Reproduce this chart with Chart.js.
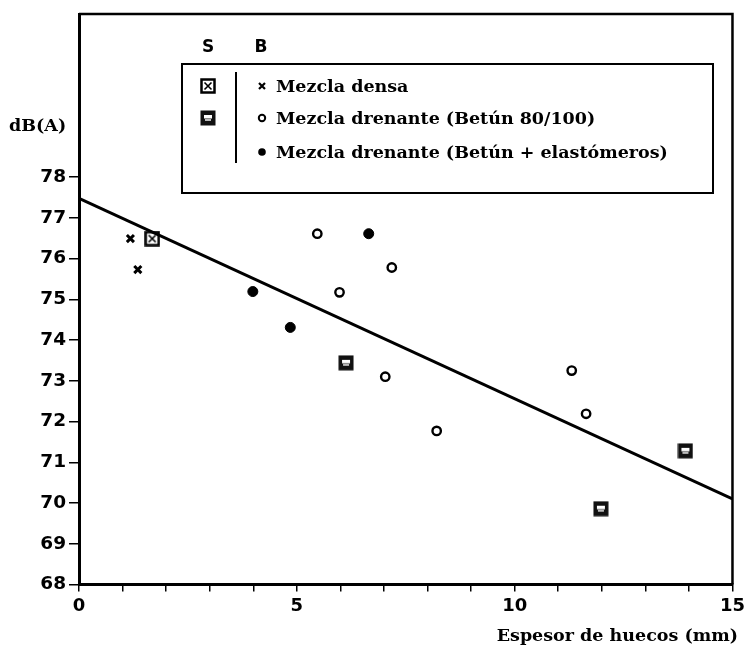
<!DOCTYPE html>
<html>
<head>
<meta charset="utf-8">
<script src="https://cdn.jsdelivr.net/npm/chart.js@4/dist/chart.umd.min.js"></script>
<style>
html,body{margin:0;padding:0;background:#fff;}
#wrap{position:relative;width:749px;height:648px;}
</style>
</head>
<body>
<div id="wrap"><canvas id="c" width="749" height="648"></canvas></div>
<script>
// ---- data ----
const densaB_x = [1.18, 1.35];
const densaB_y = [76.49, 75.73];
const drenB_x = [5.47, 5.98, 7.18, 7.03, 8.21, 11.31, 11.64];
const drenB_y = [76.61, 75.17, 75.78, 73.10, 71.77, 73.25, 72.19];
const elastB_x = [3.99, 4.85, 6.65];
const elastB_y = [75.19, 74.31, 76.61];
const densaS_x = [1.68];
const densaS_y = [76.49];
const drenS_x = [6.13, 11.98, 13.92];
const drenS_y = [73.44, 69.86, 71.28];
const fit_x = [0, 15];
const fit_y = [77.48, 70.10];
const yTicks = [68, 69, 70, 71, 72, 73, 74, 75, 76, 77, 78];
const xLabels = [0, 5, 10, 15];
const legendLabels = ['Mezcla densa', 'Mezcla drenante (Betún 80/100)', 'Mezcla drenante (Betún + elastómeros)'];
const yTitle = 'dB(A)';
const xTitle = 'Espesor de huecos (mm)';

const pts = (xs, ys) => xs.map((x, i) => ({x: x, y: ys[i]}));

// custom square markers
function sqDensa() {
  const c = document.createElement('canvas'); c.width = 16; c.height = 16;
  const g = c.getContext('2d');
  g.strokeStyle = '#000'; g.lineWidth = 2.5;
  g.strokeRect(1.5, 1.5, 13, 13);
  g.lineWidth = 1.6;
  g.beginPath(); g.moveTo(4.5, 4.5); g.lineTo(11.5, 11.5); g.moveTo(11.5, 4.5); g.lineTo(4.5, 11.5); g.stroke();
  return c;
}
function sqDren() {
  const c = document.createElement('canvas'); c.width = 16; c.height = 16;
  const g = c.getContext('2d');
  g.fillStyle = '#111'; g.fillRect(0.5, 0.5, 15, 15);
  g.fillStyle = '#fff'; g.fillRect(4, 5, 8, 3.5);
  g.fillStyle = '#bbb'; g.fillRect(5, 9, 6, 2);
  return c;
}
const SQ1 = sqDensa(), SQ2 = sqDren();

const SERIF = '"DejaVu Serif", serif';
const SANS = '"DejaVu Sans", sans-serif';

const decor = {
  id: 'decor',
  afterDraw(chart) {
    const ctx = chart.ctx, a = chart.chartArea;
    ctx.save();
    // top and right frame
    ctx.strokeStyle = '#000'; ctx.lineWidth = 2.5;
    ctx.beginPath();
    ctx.moveTo(a.left, a.top); ctx.lineTo(a.right, a.top); ctx.lineTo(a.right, a.bottom);
    ctx.stroke();
    // y title
    ctx.fillStyle = '#000';
    ctx.font = 'bold 17.5px ' + SERIF;
    ctx.textAlign = 'left'; ctx.textBaseline = 'middle';
    ctx.fillText(yTitle, 9, 126);
    // x title
    ctx.font = 'bold 17.5px ' + SERIF;
    ctx.textAlign = 'right';
    ctx.fillText(xTitle, 738, 636);
    // legend box
    ctx.lineWidth = 2;
    ctx.strokeRect(182, 64, 531, 129);
    ctx.font = 'bold 17px ' + SANS;
    ctx.textAlign = 'center';
    ctx.fillText('S', 208, 48);
    ctx.fillText('B', 261, 48);
    ctx.beginPath(); ctx.moveTo(236, 72); ctx.lineTo(236, 163); ctx.stroke();
    const rows = [86, 118, 152];
    ctx.drawImage(SQ1, 208 - 8, rows[0] - 8);
    ctx.drawImage(SQ2, 208 - 8, rows[1] - 8);
    // B markers
    ctx.lineWidth = 2.2;
    ctx.beginPath();
    ctx.moveTo(259, rows[0] - 3); ctx.lineTo(265, rows[0] + 3);
    ctx.moveTo(265, rows[0] - 3); ctx.lineTo(259, rows[0] + 3);
    ctx.stroke();
    ctx.lineWidth = 2;
    ctx.beginPath(); ctx.arc(262, rows[1], 3.2, 0, Math.PI * 2); ctx.stroke();
    ctx.beginPath(); ctx.arc(262, rows[2], 3.8, 0, Math.PI * 2); ctx.fill();
    ctx.font = 'bold 17.5px ' + SERIF;
    ctx.textAlign = 'left';
    legendLabels.forEach((t, i) => ctx.fillText(t, 276, rows[i] + 1));
    ctx.restore();
  }
};

new Chart(document.getElementById('c'), {
  type: 'scatter',
  data: {
    datasets: [
      {type: 'line', data: pts(fit_x, fit_y), borderColor: '#000', borderWidth: 3, pointRadius: 0, fill: false, order: 10},
      {data: pts(densaB_x, densaB_y), pointStyle: 'crossRot', radius: 5, borderColor: '#000', borderWidth: 3},
      {data: pts(drenB_x, drenB_y), pointStyle: 'circle', radius: 4.2, borderColor: '#000', backgroundColor: '#fff', borderWidth: 2.4},
      {data: pts(elastB_x, elastB_y), pointStyle: 'circle', radius: 5, borderColor: '#000', backgroundColor: '#000', borderWidth: 1},
      {data: pts(densaS_x, densaS_y), pointStyle: SQ1},
      {data: pts(drenS_x, drenS_y), pointStyle: SQ2}
    ]
  },
  options: {
    responsive: false,
    animation: false,
    layout: {padding: {top: 11, right: 16, left: 0, bottom: 0}},
    plugins: {legend: {display: false}, tooltip: {enabled: false}},
    scales: {
      x: {
        type: 'linear', min: 0, max: 15,
        afterFit: s => { s.height = 63.5; },
        ticks: {stepSize: 1, autoSkip: false, maxRotation: 0, padding: 4, color: '#000',
          font: {family: SANS, weight: 'bold', size: 18},
          callback: v => xLabels.includes(v) ? String(v) : ''},
        grid: {drawOnChartArea: false, drawTicks: true, tickLength: 7, color: '#000', lineWidth: 1.5},
        border: {display: true, color: '#000', width: 3}
      },
      y: {
        type: 'linear', min: 68, max: 82,
        afterFit: s => { s.width = 79; },
        afterBuildTicks: s => { s.ticks = yTicks.map(v => ({value: v})); },
        ticks: {color: '#000', padding: 3, font: {family: SANS, weight: 'bold', size: 18.5}},
        grid: {drawOnChartArea: false, drawTicks: true, tickLength: 10, color: '#000', lineWidth: 1.5},
        border: {display: true, color: '#000', width: 3}
      }
    }
  },
  plugins: [decor]
});
</script>
</body>
</html>
